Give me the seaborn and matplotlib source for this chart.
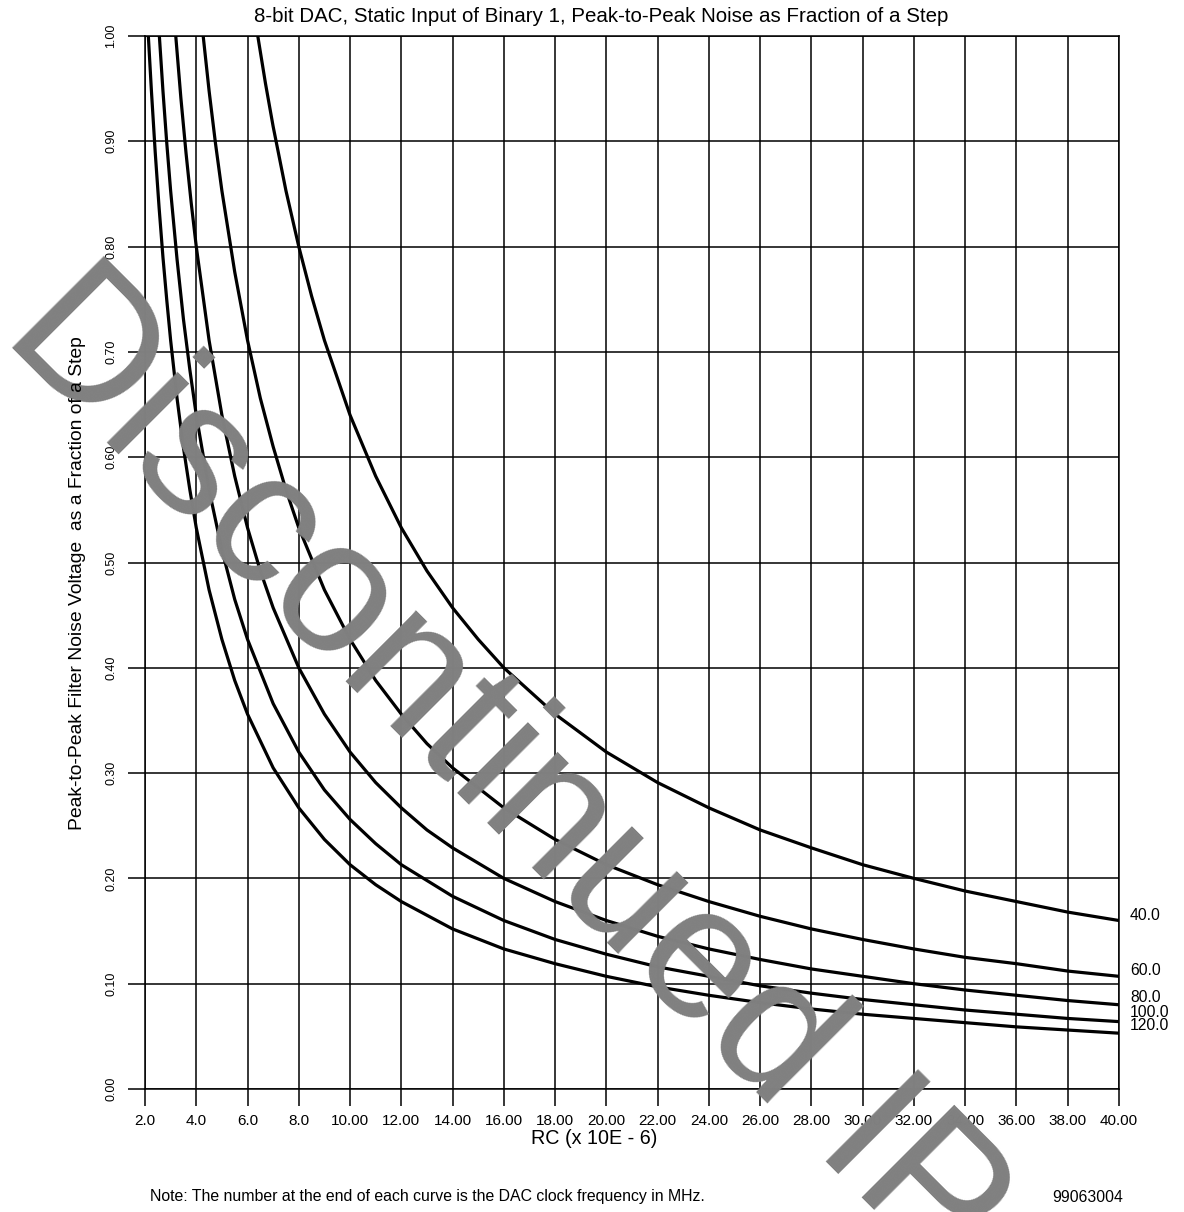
import matplotlib
matplotlib.use("Agg")
import matplotlib.pyplot as plt
import matplotlib.transforms as mtransforms
import numpy as np
import pandas as pd
import seaborn as sns

# ---- data ----
title = "8-bit DAC, Static Input of Binary 1, Peak-to-Peak Noise as Fraction of a Step"
x_label = "RC (x 10E - 6)"
y_label = "Peak-to-Peak Filter Noise Voltage  as a Fraction of a Step"
note = "Note: The number at the end of each curve is the DAC clock frequency in MHz."
doc_id = "99063004"
watermark = "Discontinued IP"

x_ticks = [2, 4, 6, 8, 10, 12, 14, 16, 18, 20, 22, 24, 26, 28, 30, 32, 34, 36, 38, 40]
x_tick_labels = ["2.0", "4.0", "6.0", "8.0", "10.00", "12.00", "14.00", "16.00", "18.00",
                 "20.00", "22.00", "24.00", "26.00", "28.00", "30.00", "32.00", "34.00",
                 "36.00", "38.00", "40.00"]
y_ticks = [0.0, 0.1, 0.2, 0.3, 0.4, 0.5, 0.6, 0.7, 0.8, 0.9, 1.0]
y_tick_labels = ["0.00", "0.10", "0.20", "0.30", "0.40", "0.50", "0.60", "0.70", "0.80", "0.90", "1.00"]

freqs = ["40.0", "60.0", "80.0", "100.0", "120.0"]

rc_40 = [6.4, 6.7, 7.0, 7.5, 8, 8.5, 9, 10, 11, 12, 13, 14, 15, 16, 18, 20, 22, 24, 26, 28,
         30, 32, 34, 36, 38, 40]
noise_40 = [1.00, 0.955, 0.914, 0.853, 0.800, 0.753, 0.711, 0.640, 0.582, 0.533, 0.492, 0.457,
            0.427, 0.400, 0.356, 0.320, 0.291, 0.267, 0.246, 0.229, 0.213, 0.200, 0.188, 0.178,
            0.168, 0.160]

rc_60 = [4.27, 4.5, 4.75, 5, 5.5, 6, 6.5, 7, 7.5, 8, 9, 10, 11, 12, 13, 14, 16, 18, 20, 22,
         24, 26, 28, 30, 32, 34, 36, 38, 40]
noise_60 = [1.00, 0.948, 0.898, 0.853, 0.776, 0.711, 0.656, 0.610, 0.569, 0.533, 0.474, 0.427,
            0.388, 0.356, 0.328, 0.305, 0.267, 0.237, 0.213, 0.194, 0.178, 0.164, 0.152, 0.142,
            0.133, 0.125, 0.119, 0.112, 0.107]

rc_80 = [3.2, 3.4, 3.6, 3.8, 4.0, 4.5, 5, 5.5, 6, 6.5, 7, 8, 9, 10, 11, 12, 13, 14, 16, 18,
         20, 22, 24, 26, 28, 30, 32, 34, 36, 38, 40]
noise_80 = [1.00, 0.941, 0.889, 0.842, 0.800, 0.711, 0.640, 0.582, 0.533, 0.492, 0.457, 0.400,
            0.356, 0.320, 0.291, 0.267, 0.246, 0.229, 0.200, 0.178, 0.160, 0.145, 0.133, 0.123,
            0.114, 0.107, 0.100, 0.094, 0.089, 0.084, 0.080]

rc_100 = [2.56, 2.7, 2.85, 3.0, 3.25, 3.5, 3.75, 4, 4.5, 5, 5.5, 6, 7, 8, 9, 10, 11, 12, 14,
          16, 18, 20, 22, 24, 26, 28, 30, 32, 34, 36, 38, 40]
noise_100 = [1.00, 0.948, 0.898, 0.853, 0.788, 0.731, 0.683, 0.640, 0.569, 0.512, 0.465, 0.427,
             0.366, 0.320, 0.284, 0.256, 0.233, 0.213, 0.183, 0.160, 0.142, 0.128, 0.116, 0.107,
             0.098, 0.091, 0.085, 0.080, 0.075, 0.071, 0.067, 0.064]

rc_120 = [2.13, 2.25, 2.4, 2.55, 2.7, 2.85, 3.0, 3.25, 3.5, 3.75, 4, 4.5, 5, 5.5, 6, 7, 8, 9,
          10, 11, 12, 14, 16, 18, 20, 22, 24, 26, 28, 30, 32, 34, 36, 38, 40]
noise_120 = [1.00, 0.948, 0.889, 0.837, 0.790, 0.749, 0.711, 0.656, 0.609, 0.569, 0.533, 0.474,
             0.427, 0.388, 0.356, 0.305, 0.267, 0.237, 0.213, 0.194, 0.178, 0.152, 0.133, 0.119,
             0.107, 0.097, 0.089, 0.082, 0.076, 0.071, 0.067, 0.063, 0.059, 0.056, 0.053]

label_y = [0.165, 0.113, 0.087, 0.073, 0.060]

# ---- build long table ----
rcs = [rc_40, rc_60, rc_80, rc_100, rc_120]
noises = [noise_40, noise_60, noise_80, noise_100, noise_120]
frames = []
for f, r, n in zip(freqs, rcs, noises):
    frames.append(pd.DataFrame({"rc": r, "noise": n, "freq": f}))
df = pd.concat(frames, ignore_index=True)

sns.set_theme(style="white")
plt.rcParams["font.family"] = ["Liberation Sans", "DejaVu Sans"]

fig = plt.figure(figsize=(11.84, 12.12), dpi=100)
ax = fig.add_axes([145 / 1184, 1 - 1089 / 1212, (1119 - 145) / 1184, (1089 - 36) / 1212])
ax.set_facecolor("none")

# watermark behind everything
fig.text(0.0, 1 - 337 / 1212, watermark, fontsize=136.5, color="#808080", rotation=-45,
         rotation_mode="anchor", ha="left", va="baseline", zorder=0)

sns.lineplot(data=df, x="rc", y="noise", hue="freq", palette=["black"] * 5,
             estimator=None, sort=False, legend=False, linewidth=2.3, ax=ax, zorder=3)

ax.set_xlim(2, 40)
ax.set_ylim(0, 1.0)
ax.set_xticks(x_ticks)
ax.set_xticklabels(x_tick_labels, fontsize=11)
ax.set_yticks(y_ticks)
ax.set_yticklabels(y_tick_labels, fontsize=9, rotation=90, va="center")
ax.tick_params(axis="both", direction="out", length=12, width=1.1, color="black",
               labelcolor="black", bottom=True, left=True)
ax.tick_params(axis="x", pad=6)
ax.tick_params(axis="y", pad=8)
ax.grid(True, color="black", linewidth=1.1)
ax.set_axisbelow(True)
for s in ax.spines.values():
    s.set_color("black")
    s.set_linewidth(1.1)
ax.set_xlabel("")
ax.set_ylabel("")

# curve labels at right
trans = mtransforms.blended_transform_factory(fig.transFigure, ax.transData)
for f, ly in zip(freqs, label_y):
    ax.text(1130 / 1184, ly, f, transform=trans, fontsize=11.3, ha="left", va="center",
            color="black", clip_on=False)

fig.text(601 / 1184, 1 - 17 / 1212, title, fontsize=14.8, ha="center", va="center", color="black")
fig.text(594 / 1184, 1 - 1138 / 1212, x_label, fontsize=14.2, ha="center", va="center", color="black")
fig.text(78 / 1184, 1 - 583 / 1212, y_label, fontsize=13.9, ha="center", va="center",
         rotation=90, color="black")
fig.text(150 / 1184, 1 - 1197 / 1212, note, fontsize=11.4, ha="left", va="center", color="black")
fig.text(1123 / 1184, 1 - 1197 / 1212, doc_id, fontsize=11.3, ha="right", va="center", color="black")

fig.savefig("out.png", dpi=100)
